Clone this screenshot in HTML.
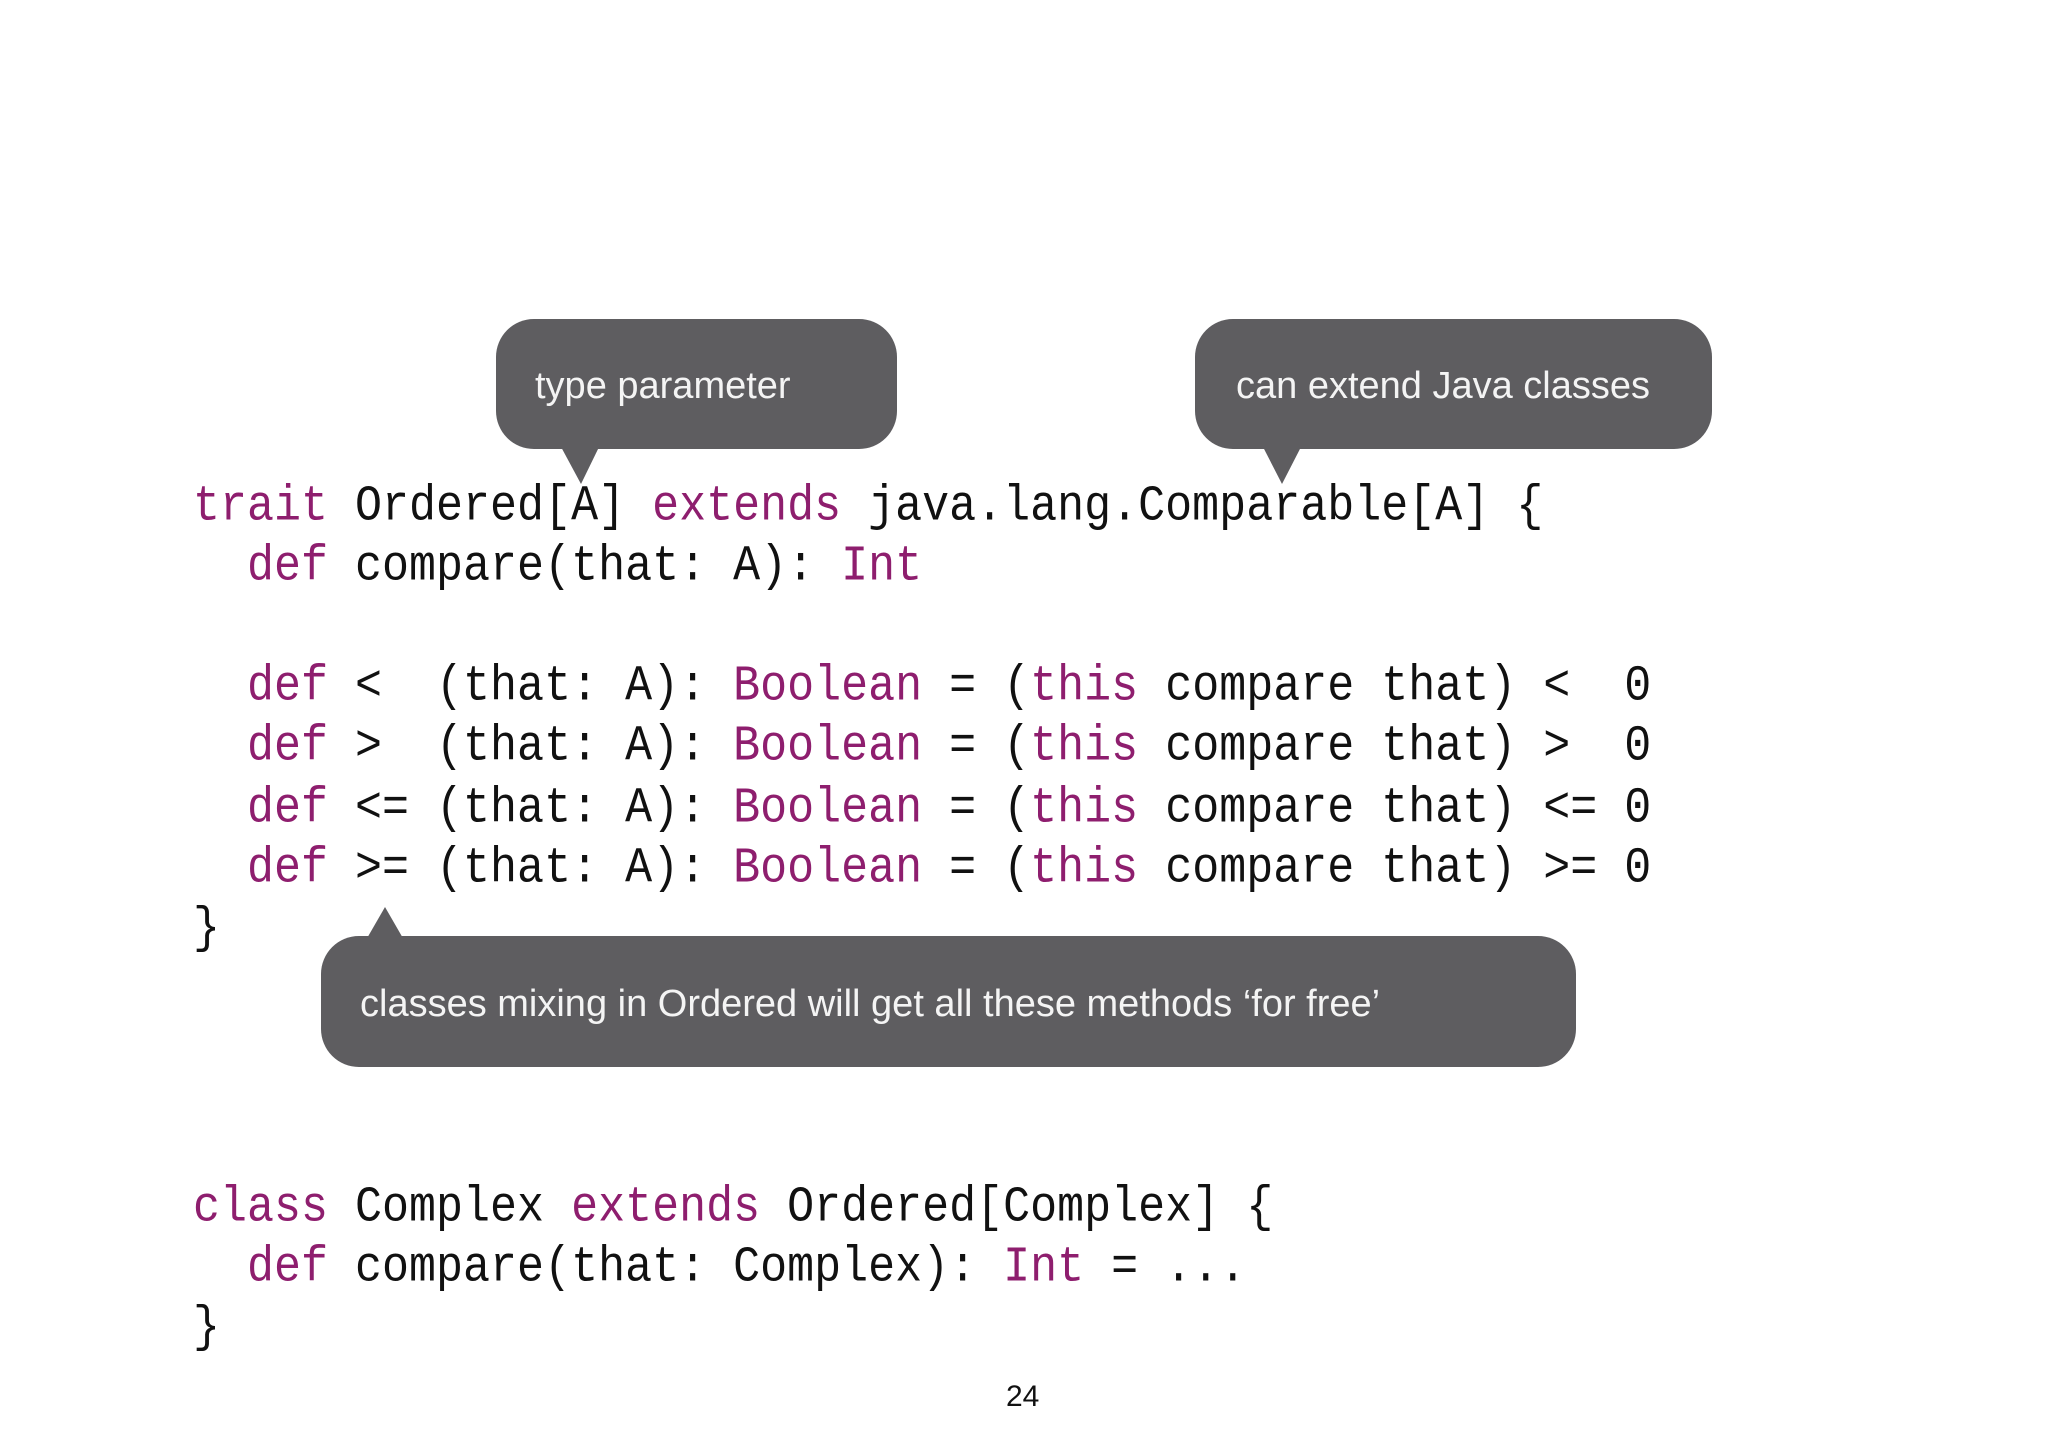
<!DOCTYPE html>
<html><head><meta charset="utf-8"><style>
body{margin:0;width:2048px;height:1447px;background:#fff;position:relative;overflow:hidden}
.l{position:absolute;left:193px;font-family:"Liberation Mono",monospace;font-size:45px;white-space:pre;color:#111;line-height:1;transform:scaleY(1.12);transform-origin:left bottom}
.k{color:#8e1e6e}
.b{position:absolute;font-family:"Liberation Sans",sans-serif;font-size:38px;color:#f4f4f4;white-space:pre;line-height:1}
</style></head><body>
<svg width="2048" height="1447" style="position:absolute;left:0;top:0">
<g fill="#5e5d60">
<rect x="496" y="319" width="401" height="130" rx="38"/>
<polygon points="560,445 600,445 581,484"/>
<rect x="1195" y="319" width="517" height="130" rx="38"/>
<polygon points="1262,445 1302,445 1282,484"/>
<rect x="321" y="936" width="1255" height="131" rx="38"/>
<polygon points="366,940 404,940 385,907"/>
</g>
</svg>
<div class="b" style="left:535px;top:367px">type parameter</div>
<div class="b" style="left:1236px;top:367px">can extend Java classes</div>
<div class="b" style="left:360px;top:985px">classes mixing in Ordered will get all these methods ‘for free’</div>
<div class="l" style="top:487px"><span class="k">trait</span> Ordered[A] <span class="k">extends</span> java.lang.Comparable[A] {</div>
<div class="l" style="top:547px">  <span class="k">def</span> compare(that: A): <span class="k">Int</span></div>
<div class="l" style="top:667px">  <span class="k">def</span> &lt;  (that: A): <span class="k">Boolean</span> = (<span class="k">this</span> compare that) &lt;  0</div>
<div class="l" style="top:727px">  <span class="k">def</span> &gt;  (that: A): <span class="k">Boolean</span> = (<span class="k">this</span> compare that) &gt;  0</div>
<div class="l" style="top:789px">  <span class="k">def</span> &lt;= (that: A): <span class="k">Boolean</span> = (<span class="k">this</span> compare that) &lt;= 0</div>
<div class="l" style="top:849px">  <span class="k">def</span> &gt;= (that: A): <span class="k">Boolean</span> = (<span class="k">this</span> compare that) &gt;= 0</div>
<div class="l" style="top:909px">}</div>
<div class="l" style="top:1188px"><span class="k">class</span> Complex <span class="k">extends</span> Ordered[Complex] {</div>
<div class="l" style="top:1248px">  <span class="k">def</span> compare(that: Complex): <span class="k">Int</span> = ...</div>
<div class="l" style="top:1308px">}</div>
<div style="position:absolute;left:1006px;top:1380px;font-family:'Liberation Sans',sans-serif;font-size:30px;color:#111">24</div>
</body></html>
